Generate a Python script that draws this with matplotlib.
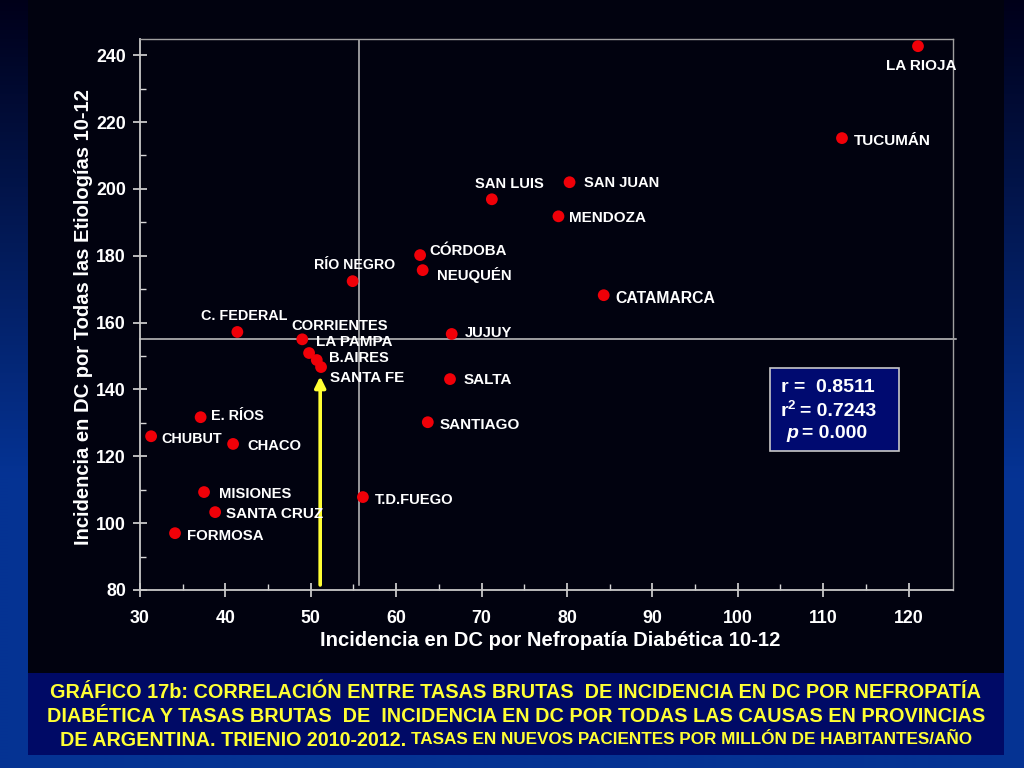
import numpy as np
import matplotlib
matplotlib.use("Agg")
import matplotlib.pyplot as plt

provinces = ["LA RIOJA","TUCUMÁN","SAN JUAN","SAN LUIS","MENDOZA","CÓRDOBA","NEUQUÉN","RÍO NEGRO",
             "CATAMARCA","C. FEDERAL","JUJUY","CORRIENTES","LA PAMPA","B.AIRES","SANTA FE","SALTA",
             "E. RÍOS","SANTIAGO","CHUBUT","CHACO","MISIONES","T.D.FUEGO","SANTA CRUZ","FORMOSA"]
nefropatia = [121.1,112.2,80.3,71.2,79.0,62.8,63.1,54.9,84.3,41.4,66.5,49.0,49.8,50.7,51.2,66.3,
              37.1,63.7,31.3,40.9,37.5,56.1,38.8,34.1]
todas = [242.7,215.2,202.0,196.9,191.8,180.2,175.7,172.4,168.2,157.2,156.6,155.0,150.9,148.8,146.7,143.1,
         131.7,130.2,126.0,123.7,109.3,107.8,103.3,97.0]
mean_x = 55.6
mean_y = 155.2
arrow_x = 51.1
xticks = list(range(30,130,10))
yticks = list(range(80,260,20))

# label offsets from the point, pixels (left edge, vertical centre)
label_dx = [-32,12,14,-17,11,9,14,-39,12,-36,13,-11,7,12,9,14,10,12,10,14,15,12,11,12]
label_dy = [-20,-3,-1,15,-2,4,-5,16,-3,16,1,13,11,2,-11,-1,1,-3,-3,-2,-2,-3,-2,-3]
label_size = [11,11,10.6,10.6,11,10.8,10.8,10.2,11.3,10.4,10.6,10.6,11,10.6,11,11,10.4,11,10.4,10.6,10.6,10.6,11,10.8]

F = "Liberation Sans"
W = 1024; H = 768
fig = plt.figure(figsize=(W/100,H/100),dpi=100)

# slide background
bg = fig.add_axes([0,0,1,1],zorder=0)
bg.set_axis_off()
vert = np.linspace(0,1,256)[:,None,None]
top = np.array([0,0,0.10]); bottom = np.array([0.02,0.20,0.58])
t = np.clip(vert/0.62,0,1)
bg.imshow(top*(1-t)+bottom*t,extent=[0,W,H,0],aspect="auto")
bg.set_xlim(0,W); bg.set_ylim(H,0)
bg.add_patch(plt.Rectangle((28,0),976,673,fc="#01020f",ec="none"))
bg.add_patch(plt.Rectangle((28,673),976,82,fc="#000a66",ec="none"))

ax = fig.add_axes([140/W,1-590/H,(953-140)/W,(590-38.5)/H],zorder=2)
ax.set_facecolor("none")
for s in ax.spines.values():
    s.set_color("#c8c8c8"); s.set_linewidth(1.3)
ax.spines["right"].set_linewidth(1.0)
ax.spines["top"].set_linewidth(1.0)
ax.spines["top"].set_color("#a0a0a0"); ax.spines["right"].set_color("#a0a0a0")
ax.set_xticks(xticks); ax.set_yticks(yticks)
ax.set_xticks([v+5 for v in xticks[:-1]],minor=True)
ax.set_yticks([v+10 for v in yticks[:-1]],minor=True)
ax.set_xlim(30,125.2); ax.set_ylim(80,245)
ax.tick_params(axis="both",which="major",direction="inout",length=10,width=1.2,color="#d8d8d8")
ax.tick_params(axis="both",which="minor",direction="in",length=4,width=1,color="#d8d8d8")
ax.tick_params(axis="x",which="major",pad=9.5)
ax.tick_params(axis="y",which="major",pad=5)
for l in ax.get_xticklabels()+ax.get_yticklabels():
    l.set_family(F); l.set_fontweight("bold"); l.set_fontsize(12.8); l.set_color("white")

ax.plot([mean_x,mean_x],[81.5,245],color="#c0c0c0",lw=1.1,zorder=2)
ax.plot([30,125.6],[mean_y,mean_y],color="#c8c8c8",lw=1.1,zorder=2,clip_on=False)
ax.annotate("",xy=(arrow_x,143.9),xytext=(arrow_x,81.5),
            arrowprops=dict(arrowstyle="-|>,head_width=0.32,head_length=0.65",color="#ffff33",lw=2.6,shrinkA=0,shrinkB=0),zorder=3)
ax.scatter(nefropatia,todas,s=72,color="#f00008",edgecolor="none",zorder=4)
for n,x,y,dx,dy,fs in zip(provinces,nefropatia,todas,label_dx,label_dy,label_size):
    ax.annotate(n,(x,y),xytext=(dx,dy),textcoords="offset pixels",family=F,fontweight="bold",
                fontsize=fs,color="white",va="center",ha="left",zorder=5)

fig.text(550.5/W,1-641/H,"Incidencia en DC por Nefropatía Diabética 10-12",family=F,fontweight="bold",
         fontsize=14.6,color="white",ha="center",va="center",zorder=6)
fig.text(84/W,1-317/H,"Incidencia en DC por Todas las Etiologías 10-12",family=F,fontweight="bold",
         fontsize=14.5,color="white",ha="center",va="center",rotation=90,zorder=6)

# stats box
bg.add_patch(plt.Rectangle((770,368),129,83,fc="#000a70",ec="#c8c8c8",lw=1.2,zorder=3))
def stat(x,y,s,fs=14,**k):
    fig.text(x/W,1-y/H,s,family=F,fontweight="bold",fontsize=fs,color="white",va="center",ha="left",zorder=7,**k)
stat(781,387,"r =  0.8511")
stat(781,411,"r")
stat(788,406,"2",fs=9.5)
stat(800,411,"= 0.7243")
stat(786,434,"p",style="italic")
stat(802,434,"= 0.000")

# caption
Y = "#ffff33"
def cap(y,parts):
    r = fig.canvas.get_renderer()
    arts = []
    for s,fs in parts:
        arts.append(fig.text(0,1-y/H,s,family=F,fontweight="bold",fontsize=fs,color=Y,va="center",ha="left",zorder=7))
    ws = [a.get_window_extent(r).width for a in arts]
    x = 516 - sum(ws)/2
    for a,w in zip(arts,ws):
        a.set_x(x/W); x += w
cap(692,[("GRÁFICO 17b: CORRELACIÓN ENTRE TASAS BRUTAS  DE INCIDENCIA EN DC POR NEFROPATÍA",14.3)])
cap(716,[("DIABÉTICA Y TASAS BRUTAS  DE  INCIDENCIA EN DC POR TODAS LAS CAUSAS EN PROVINCIAS",14.3)])
cap(740,[("DE ARGENTINA. TRIENIO 2010-2012. ",14.2),("TASAS EN NUEVOS PACIENTES POR MILLÓN DE HABITANTES/AÑO",12.3)])

fig.savefig("out.png",dpi=100)
